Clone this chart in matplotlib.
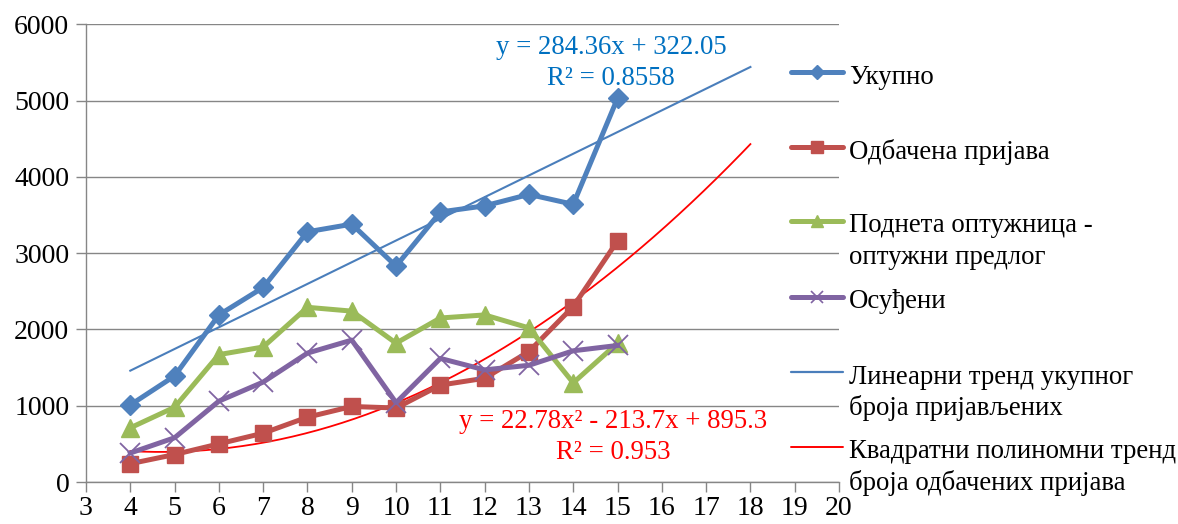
import matplotlib
matplotlib.use("Agg")
import matplotlib.pyplot as plt
from matplotlib.lines import Line2D
import numpy as np

plt.rcParams['font.family'] = ['Liberation Serif', 'DejaVu Serif']

x = [4, 5, 6, 7, 8, 9, 10, 11, 12, 13, 14, 15]
ukupno = [1010, 1390, 2190, 2550, 3280, 3380, 2830, 3540, 3620, 3770, 3640, 5030]
odbacena = [240, 360, 500, 640, 850, 990, 970, 1270, 1360, 1710, 2300, 3160]
podneta = [710, 980, 1670, 1770, 2290, 2240, 1820, 2150, 2190, 2020, 1300, 1820]
osudjeni = [380, 580, 1060, 1310, 1690, 1860, 1040, 1620, 1470, 1530, 1720, 1790]

lin_coef = [284.36, 322.05]          # linear trend of Укупно
quad_coef = [22.78, -213.7, 895.3]   # quadratic trend of Одбачена пријава
trend_range = [4, 18]

labels = ["Укупно", "Одбачена пријава", "Поднета оптужница -\nоптужни предлог",
          "Осуђени", "Линеарни тренд укупног\nброја пријављених",
          "Квадратни полиномни тренд\nброја одбачених пријава"]
lin_eq = "y = 284.36x + 322.05\nR² = 0.8558"
quad_eq = "y = 22.78x² - 213.7x + 895.3\nR² = 0.953"

c_blue = '#4F81BD'
c_red = '#C0504D'
c_green = '#9BBB59'
c_purple = '#8064A2'
c_lin = '#4A7EBB'
c_quad = '#FF0000'
grid_c = '#868686'

fs_tick = 20
fs_text = 19.3

fig = plt.figure(figsize=(11.78, 5.24), dpi=100)
ax = fig.add_axes([86/1178, 1-482/524, (839-86)/1178, (482-24.3)/524])

ax.set_xlim(3, 20)
ax.set_ylim(0, 6000)
ax.set_xticks(range(3, 21))
ax.set_yticks(range(0, 6001, 1000))
ax.yaxis.grid(True, color=grid_c, linewidth=1.0)
ax.set_axisbelow(True)
for s in ['top', 'right']:
    ax.spines[s].set_visible(False)
for s in ['left', 'bottom']:
    ax.spines[s].set_color(grid_c)
    ax.spines[s].set_linewidth(1.0)
ax.tick_params(axis='both', colors=grid_c, labelcolor='black', labelsize=fs_tick,
               length=7, width=1.0, direction='out')
ax.tick_params(axis='y', pad=5)
ax.tick_params(axis='x', pad=3)

xt = np.linspace(trend_range[0], trend_range[1], 200)
ax.plot(xt, np.polyval(lin_coef, xt), color=c_lin, lw=1.5, zorder=3)
ax.plot(xt, np.polyval(quad_coef, xt), color=c_quad, lw=1.3, zorder=3)

lw = 3.6
ax.plot(x, ukupno, color=c_blue, lw=lw, marker='D', ms=10, zorder=4, solid_joinstyle='round')
ax.plot(x, odbacena, color=c_red, lw=lw, marker='s', ms=12, zorder=4, solid_joinstyle='round')
ax.plot(x, podneta, color=c_green, lw=lw, marker='^', ms=13, zorder=4, solid_joinstyle='round')
ax.plot(x, osudjeni, color=c_purple, lw=lw, marker='x', ms=14, mew=1.3, zorder=4, solid_joinstyle='round')

fig.text(611/1178, 1-63/524, lin_eq, ha='center', va='center',
         color='#0070C0', fontsize=fs_text, linespacing=1.35)
fig.text(613/1178, 1-437/524, quad_eq, ha='center', va='center',
         color=c_quad, fontsize=fs_text, linespacing=1.35)

# legend drawn manually
leg_y = [72, 147, 221, 297, 372, 447]
styles = [
    dict(color=c_blue, marker='D', ms=7, lw=3.6),
    dict(color=c_red, marker='s', ms=9, lw=3.6),
    dict(color=c_green, marker='^', ms=9, lw=3.6),
    dict(color=c_purple, marker='x', ms=9, mew=1.2, lw=3.6),
    dict(color=c_lin, lw=1.6),
    dict(color=c_quad, lw=1.4),
]
x0, x1 = 791/1178, 843/1178
for yy, st, lab in zip(leg_y, styles, labels):
    yf = 1 - yy/524
    fig.add_artist(Line2D([x0, x1], [yf, yf], transform=fig.transFigure,
                          color=st['color'], lw=st['lw'], solid_capstyle='round'))
    if 'marker' in st:
        fig.add_artist(Line2D([(x0+x1)/2], [yf], transform=fig.transFigure,
                              color=st['color'], marker=st['marker'], ms=st['ms'],
                              mew=st.get('mew', 1.0), lw=0))
    for i, t in enumerate(lab.split('\n')):
        fig.text(849/1178, 1 - (yy + 2 + i*31)/524, t, ha='left', va='center_baseline',
                 fontsize=fs_text, color='black')

fig.savefig('out.png', dpi=100)
